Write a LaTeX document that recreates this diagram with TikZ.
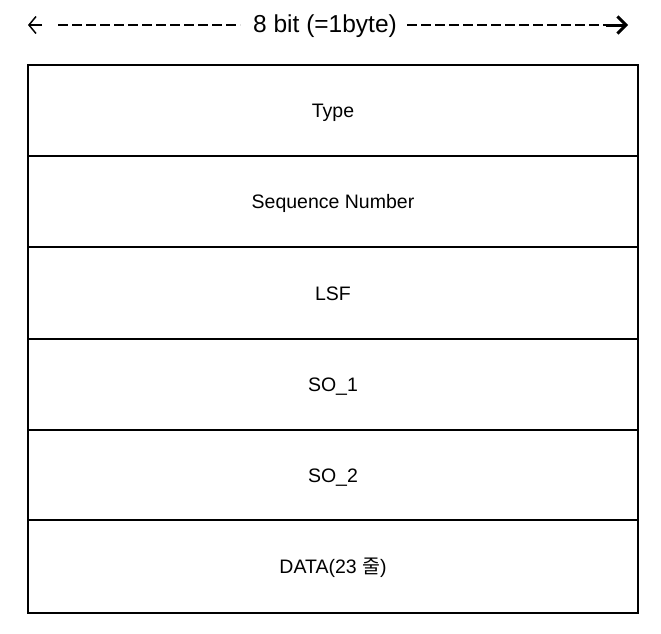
\documentclass[tikz,border=0pt]{standalone}
\usepackage{fontspec}
\setmainfont{Liberation Sans}
\newfontfamily\krfont{Noto Sans CJK KR}
\usetikzlibrary{arrows.meta}
\begin{document}
\begin{tikzpicture}[x=1pt,y=-1pt,
  rowbox/.style={draw=black,line width=2pt,minimum width=610pt,inner sep=0pt,
    text height=14pt,text depth=0pt,
    font=\fontsize{19.5pt}{21pt}\selectfont},
  hdrdash/.style={line width=2.4pt,dash pattern=on 10pt off 4pt},
  hdrtext/.style={font=\fontsize{24.5pt}{26pt}\selectfont,inner sep=0pt,
    text height=17.5pt,text depth=0pt}]
\useasboundingbox (0,0) rectangle (661,633);
% rows
\node[rowbox,minimum height=91pt] (r1) at (333,110.5) {Type};
\node[rowbox,minimum height=91pt] (r2) at (333,201.5) {Sequence Number};
\node[rowbox,minimum height=92pt] (r3) at (333,293) {LSF};
\node[rowbox,minimum height=91pt] (r4) at (333,384.5) {SO\_1};
\node[rowbox,minimum height=90pt] (r5) at (333,475) {SO\_2};
\node[rowbox,minimum height=93pt] (r6) at (333,566.5) {DATA(23 {\krfont 줄})};
% header
\node[hdrtext] (lbl) at (325,23.5) {8 bit (=1byte)};
\coordinate (las) at (42,25);
\coordinate (lae) at (28,25);
\coordinate (ras) at (606,25);
\coordinate (rae) at (628,25);
\coordinate (ls) at (58,25);
\coordinate (le) at (240,25);
\coordinate (rs) at (407,25);
\coordinate (re) at (613,25);
\draw[line width=1.5pt,-{Straight Barb[length=7pt,width=17pt]}] (las) -- (lae);
\draw[line width=3pt,-{Straight Barb[length=8.5pt,width=17pt]}] (ras) -- (rae);
\draw[hdrdash] (ls) -- (le);
\draw[hdrdash] (rs) -- (re);
\end{tikzpicture}
\end{document}
